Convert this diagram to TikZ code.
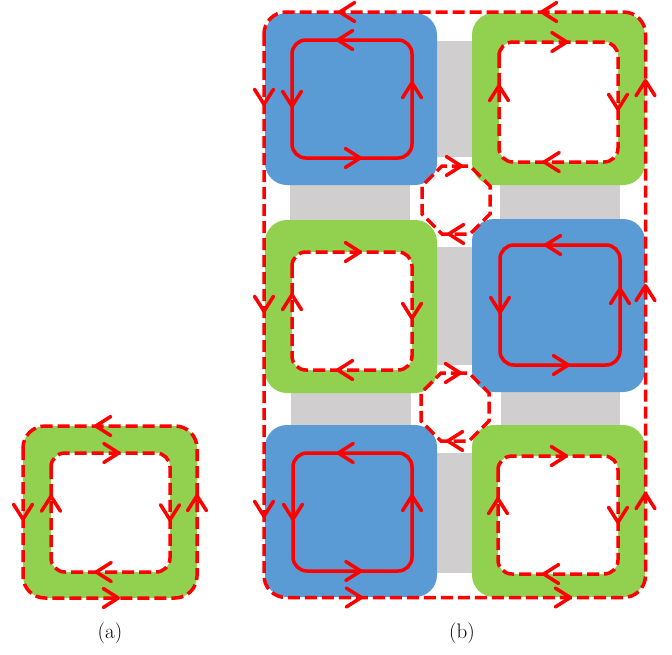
\documentclass[tikz,border=0pt]{standalone}
\usepackage{fontspec}
\usetikzlibrary{arrows.meta,decorations.markings,calc}
\definecolor{cblue}{HTML}{5B9BD5}
\definecolor{cgreen}{HTML}{92D050}
\definecolor{cgray}{HTML}{D0CECE}
\tikzset{
  blockfill/.style={fill=#1, rounded corners=22pt},
  holefill/.style={fill=white, rounded corners=14pt},
  solidloop/.style={draw=red, line width=3.5pt, rounded corners=14pt},
  dashloop/.style={draw=red, line width=3.5pt, rounded corners=#1, dash pattern=on 12pt off 5pt},
  dashloop/.default=14pt,
  chevtip/.style={decoration={markings, mark=at position 1 with {\arrow[red, line width=3.5pt]{Straight Barb[length=15pt,width=19pt,round]}}}, decorate},
  lbl/.style={font=\fontsize{21}{25}\selectfont}
}
% chevron: #1 tip coordinate, #2 direction
\newcommand\chv[2]{\path[chevtip] ($#1-#2$) -- #1;}
% counter-clockwise (screen) loop arrows on rectangle x1 y1 x2 y2
\newcommand\arrccw[4]{%
  \chv{($(#1,#2)!.5!(#3,#2)+(-16,0)$)}{(-1,0)}
  \chv{($(#1,#2)!.5!(#1,#4)+(0,9)$)}{(0,1)}
  \chv{($(#1,#4)!.5!(#3,#4)+(10,0)$)}{(1,0)}
  \chv{($(#3,#2)!.5!(#3,#4)+(0,-18)$)}{(0,-1)}}
\newcommand\arrcw[4]{%
  \chv{($(#1,#2)!.5!(#3,#2)+(10,0)$)}{(1,0)}
  \chv{($(#3,#2)!.5!(#3,#4)+(0,9)$)}{(0,1)}
  \chv{($(#1,#4)!.5!(#3,#4)+(-16,0)$)}{(-1,0)}
  \chv{($(#1,#2)!.5!(#1,#4)+(0,-18)$)}{(0,-1)}}
% octagon centered at #1,#2
\newcommand\octo[2]{%
  \draw[dashloop=0pt] (#1,#2-34) -- (#1+14,#2-34) -- (#1+34,#2-14) -- (#1+34,#2+14) -- (#1+14,#2+34) -- (#1-14,#2+34) -- (#1-34,#2+14) -- (#1-34,#2-14) -- (#1-14,#2-34) -- cycle;
  \chv{(#1+7,#2-34)}{(1,0)}
  \chv{(#1-9,#2+34)}{(-1,0)}}
\begin{document}
\begin{tikzpicture}[x=1pt,y=-1pt]
\useasboundingbox (0,0) rectangle (672,654);
% ---------- (a)
\fill[blockfill=cgreen] (23,426) rectangle (197,598);
\fill[holefill] (51,453) rectangle (170,572);
\draw[dashloop] (51,453) rectangle (170,572);
\draw[dashloop=22pt] (23,426) rectangle (197,598);
\arrcw{51}{453}{170}{572}
\arrccw{23}{426}{197}{598}
\node[lbl] (la) at (110,633) {(a)};
% ---------- (b) gray connectors
\fill[cgray] (437,41) rectangle (472,157);
\fill[cgray] (437,247) rectangle (472,365);
\fill[cgray] (437,453) rectangle (472,573);
\fill[cgray] (290,175) rectangle (410,230);
\fill[cgray] (500,175) rectangle (620,230);
\fill[cgray] (291,382) rectangle (411,435);
\fill[cgray] (501,382) rectangle (620,435);
% blocks
\fill[blockfill=cblue] (265,13) rectangle (437,185);
\fill[blockfill=cgreen] (472,13) rectangle (645,185);
\fill[blockfill=cgreen] (265,220) rectangle (437,393);
\fill[blockfill=cblue] (472,219) rectangle (645,392);
\fill[blockfill=cblue] (265,425) rectangle (437,597);
\fill[blockfill=cgreen] (472,425) rectangle (645,597);
% holes
\fill[holefill] (499,42) rectangle (618,162);
\fill[holefill] (292,252) rectangle (412,370);
\fill[holefill] (498,456) rectangle (618,574);
% inner loops
\draw[solidloop] (292,40) rectangle (412,158);
\arrccw{292}{40}{412}{158}
\draw[dashloop] (499,42) rectangle (618,162);
\arrcw{499}{42}{618}{162}
\draw[dashloop] (292,252) rectangle (412,370);
\arrcw{292}{252}{412}{370}
\draw[solidloop] (500,245) rectangle (620,365);
\arrccw{500}{245}{620}{365}
\draw[solidloop] (293,453) rectangle (412,571);
\arrccw{293}{453}{412}{571}
\draw[dashloop] (498,456) rectangle (618,574);
\arrcw{498}{456}{618}{574}
% octagons
\octo{456}{200}
\octo{455}{407}
% outer frame
\draw[dashloop=22pt] (264,12) rectangle (645.5,597.5);
\chv{(338,12)}{(-1,0)}
\chv{(540,12)}{(-1,0)}
\chv{(363,597.5)}{(1,0)}
\chv{(572,597.5)}{(1,0)}
\chv{(264,106)}{(0,1)}
\chv{(264,313)}{(0,1)}
\chv{(264,518)}{(0,1)}
\chv{(645.5,79)}{(0,-1)}
\chv{(645.5,284)}{(0,-1)}
\chv{(645.5,492)}{(0,-1)}
\node[lbl] (lb) at (462,633) {(b)};
\end{tikzpicture}
\end{document}
